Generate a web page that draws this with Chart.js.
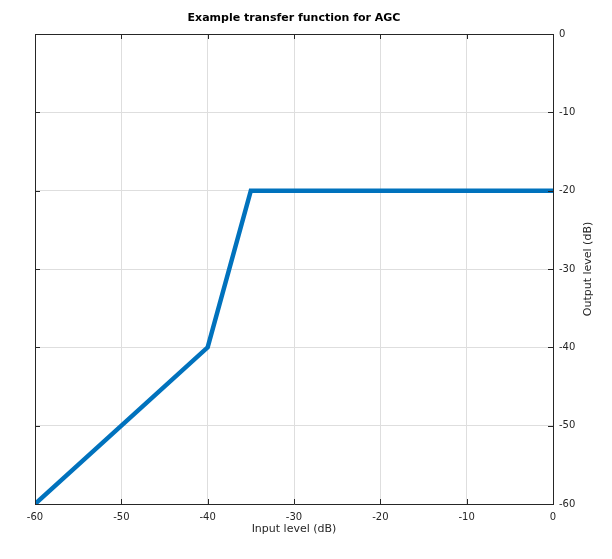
<!DOCTYPE html>
<html>
<head>
<meta charset="utf-8">
<script src="https://cdn.jsdelivr.net/npm/chart.js@4/dist/chart.umd.min.js"></script>
<style>
  html, body { margin: 0; padding: 0; background: #fff; }
  #wrap { width: 612px; height: 559px; }
</style>
</head>
<body>
<div id="wrap"><canvas id="myChart" width="612" height="559"></canvas></div>
<script>
var inputLevel = [-60, -40, -35, 0];
var outputLevel = [-60, -40, -20, -20];
var xTicks = [-60, -50, -40, -30, -20, -10, 0];
var yTicks = [-60, -50, -40, -30, -20, -10, 0];

var chartTitle = "Example transfer function for AGC";
var xTitle = "Input level (dB)";
var yTitle = "Output level (dB)";

var axisColor = "#262626";
var gridColor = "#dedede";
var font = "DejaVu Sans";

// MATLAB style: ticks point inwards, title drawn by hand
var extras = {
    id: "extras",
    afterDraw: function(chart){
        var ctx = chart.ctx;
        var a = chart.chartArea;
        var len = 5;
        ctx.save();
        ctx.strokeStyle = axisColor;
        ctx.lineWidth = 1;
        ctx.beginPath();
        xTicks.forEach(function(v){
            var px = Math.round(chart.scales.x.getPixelForValue(v)) + 0.5;
            ctx.moveTo(px, a.bottom); ctx.lineTo(px, a.bottom - len);
            ctx.moveTo(px, a.top); ctx.lineTo(px, a.top + len);
        });
        yTicks.forEach(function(v){
            var py = Math.round(chart.scales.y.getPixelForValue(v)) + 0.5;
            ctx.moveTo(a.left, py); ctx.lineTo(a.left + len, py);
            ctx.moveTo(a.right, py); ctx.lineTo(a.right - len, py);
        });
        ctx.stroke();

        ctx.fillStyle = "#000";
        ctx.font = "bold 11px '" + font + "'";
        ctx.textAlign = "center";
        ctx.textBaseline = "middle";
        ctx.fillText(chartTitle, (a.left + a.right) / 2, 18);

        ctx.fillStyle = axisColor;
        ctx.font = "11px '" + font + "'";
        ctx.translate(588, (a.top + a.bottom) / 2);
        ctx.rotate(-Math.PI / 2);
        ctx.fillText(yTitle, 0, 0);
        ctx.restore();
    }
};

var points = inputLevel.map(function(x, i){ return {x: x, y: outputLevel[i]}; });

var ctx = document.getElementById("myChart").getContext("2d");
var myChart = new Chart(ctx, {
    type: "line",
    data: {
        datasets: [{
            data: points,
            borderColor: "#0072BD",
            borderWidth: 4.5,
            pointRadius: 0,
            fill: false,
            tension: 0
        }]
    },
    options: {
        responsive: false,
        animation: false,
        layout: { padding: { bottom: 23 } },
        plugins: {
            legend: { display: false },
            title: { display: false },
            tooltip: { enabled: false }
        },
        scales: {
            x: {
                type: "linear",
                position: "bottom",
                min: -60, max: 0,
                afterBuildTicks: function(s){ s.ticks = xTicks.map(function(v){ return {value: v}; }); },
                afterFit: function(s){ s.height = 32; },
                grid: { color: gridColor, drawTicks: false },
                border: { display: true, color: axisColor, width: 1 },
                ticks: { color: axisColor, padding: 7, maxRotation: 0, font: { family: font, size: 10 } },
                title: { display: true, text: xTitle, color: axisColor, padding: 0, font: { family: font, size: 11 } }
            },
            xTop: {
                type: "linear",
                position: "top",
                min: -60, max: 0,
                afterFit: function(s){ s.height = 34; },
                grid: { display: false, drawTicks: false },
                border: { display: true, color: axisColor, width: 1 },
                ticks: { display: false }
            },
            y: {
                type: "linear",
                position: "right",
                min: -60, max: 0,
                afterBuildTicks: function(s){ s.ticks = yTicks.map(function(v){ return {value: v}; }); },
                afterFit: function(s){ s.width = 59; },
                grid: { color: gridColor, drawTicks: false },
                border: { display: true, color: axisColor, width: 1 },
                ticks: { color: axisColor, padding: 6, font: { family: font, size: 10 } }
            },
            yLeft: {
                type: "linear",
                position: "left",
                min: -60, max: 0,
                afterFit: function(s){ s.width = 35; },
                grid: { display: false, drawTicks: false },
                border: { display: true, color: axisColor, width: 1 },
                ticks: { display: false }
            }
        }
    },
    plugins: [extras]
});
</script>
</body>
</html>
